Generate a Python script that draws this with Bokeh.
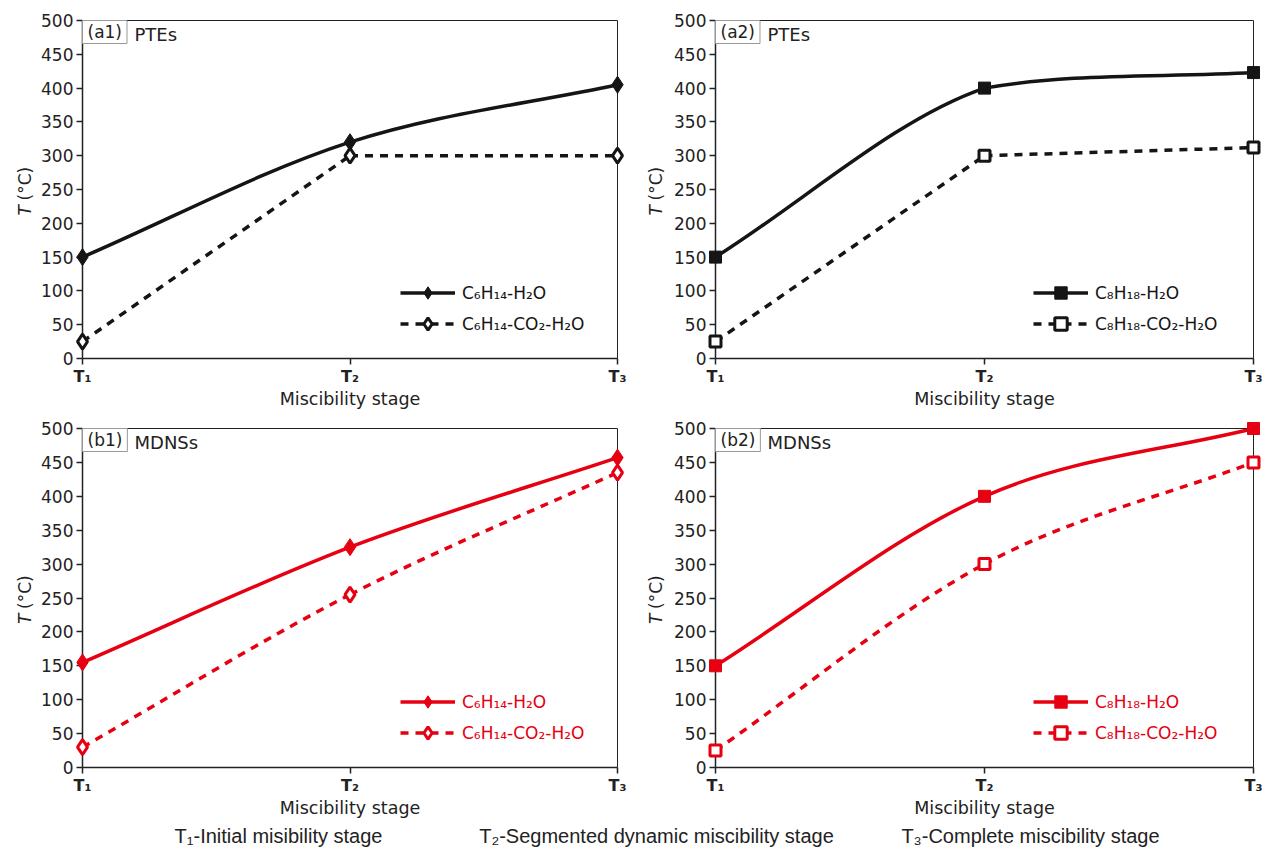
import numpy as np
from bokeh.plotting import figure
from bokeh.models import Range1d, FixedTicker, Label, Legend, LegendItem, LinearAxis
from bokeh.layouts import column, row
from bokeh.embed import file_html
from bokeh.resources import INLINE

# ---------------- data ----------------
stages = [0, 1, 2]
stage_labels = {0: "T₁", 1: "T₂", 2: "T₃"}
y_ticks = [0, 50, 100, 150, 200, 250, 300, 350, 400, 450, 500]

a1_h2o = [150, 320, 405]
a1_co2 = [25, 300, 300]
a2_h2o = [150, 400, 423]
a2_co2 = [25, 300, 312]
b1_h2o = [155, 325, 457]
b1_co2 = [30, 255, 435]
b2_h2o = [150, 400, 500]
b2_co2 = [25, 300, 450]

lab_c6 = ["C₆H₁₄-H₂O", "C₆H₁₄-CO₂-H₂O"]
lab_c8 = ["C₈H₁₈-H₂O", "C₈H₁₈-CO₂-H₂O"]
captions = ["T₁-Initial misibility stage",
            "T₂-Segmented dynamic miscibility stage",
            "T₃-Complete miscibility stage"]

BLACK = "#151515"
RED = "#e60012"
FONT = "DejaVu Sans"
AX = "#222222"


def bezier_source(xs, ys, smooth):
    xs = np.asarray(xs, float)
    ys = np.asarray(ys, float)
    n = len(xs)
    m = np.zeros(n)
    for i in range(n):
        if i == 0:
            m[i] = ys[1] - ys[0]
        elif i == n - 1:
            m[i] = ys[-1] - ys[-2]
        else:
            m[i] = (ys[i + 1] - ys[i - 1]) / 2
    x0, x1, y0, y1 = xs[:-1], xs[1:], ys[:-1], ys[1:]
    cx0 = x0 + (x1 - x0) / 3
    cx1 = x1 - (x1 - x0) / 3
    lin0 = y0 + (y1 - y0) / 3
    lin1 = y1 - (y1 - y0) / 3
    cr0 = y0 + m[:-1] / 3
    cr1 = y1 - m[1:] / 3
    cy0 = (1 - smooth) * lin0 + smooth * cr0
    cy1 = (1 - smooth) * lin1 + smooth * cr1
    lo, hi = np.minimum(y0, y1), np.maximum(y0, y1)
    cy0 = np.clip(cy0, lo, hi)
    cy1 = np.clip(cy1, lo, hi)
    return dict(x0=x0, y0=y0, x1=x1, y1=y1, cx0=cx0, cy0=cy0, cx1=cx1, cy1=cy1)


def style_axis(ax):
    ax.axis_line_color = AX
    ax.axis_line_width = 1.5
    ax.major_tick_line_color = AX
    ax.major_tick_line_width = 1.5
    ax.major_tick_in = 0
    ax.major_tick_out = 6
    ax.minor_tick_line_color = None
    ax.major_label_text_font = FONT
    ax.major_label_text_color = AX


def bare_axis(loc, bounds):
    return LinearAxis(fixed_location=loc, bounds=bounds, axis_line_color=AX, axis_line_width=1,
                      major_tick_line_color=None, minor_tick_line_color=None,
                      major_label_text_alpha=0, major_label_text_font_size="1px")


def panel(h2o, co2, color, marker, labels, tag, name, width, height,
          left_px, frame_w, top_px, frame_h, smooth_co2):
    right_px = width - left_px - frame_w
    bottom_px = height - top_px - frame_h
    ux = 2.0 / frame_w
    uy = 500.0 / frame_h
    p = figure(width=width, height=height,
               x_range=Range1d(-left_px * ux, 2 + right_px * ux),
               y_range=Range1d(-bottom_px * uy, 500 + top_px * uy),
               output_backend="svg", toolbar_location=None, title=None,
               min_border=0)
    p.grid.visible = False
    p.background_fill_color = "white"
    p.border_fill_color = "white"
    p.outline_line_color = None

    p.xaxis.ticker = FixedTicker(ticks=stages)
    p.xaxis.major_label_overrides = stage_labels
    p.xaxis.bounds = (0, 2)
    p.xaxis.fixed_location = 0
    p.yaxis.ticker = FixedTicker(ticks=y_ticks)
    p.yaxis.fixed_location = 0
    p.yaxis.bounds = (0, 500)
    style_axis(p.xaxis[0])
    style_axis(p.yaxis[0])
    p.yaxis.major_label_text_font_size = "17px"
    p.yaxis.major_label_standoff = 3
    p.xaxis.major_label_text_font_size = "16px"
    p.xaxis.major_label_text_font_style = "bold"
    p.xaxis.major_label_standoff = 2
    p.xaxis.axis_label = "Miscibility stage"
    p.xaxis.axis_label_text_font = FONT
    p.xaxis.axis_label_text_font_style = "normal"
    p.xaxis.axis_label_text_font_size = "17.5px"
    p.xaxis.axis_label_text_color = AX
    p.xaxis.axis_label_standoff = 0

    # top and right frame lines
    p.add_layout(bare_axis(500, (0, 2)), "above")
    p.add_layout(bare_axis(2, (0, 500)), "right")

    s1 = bezier_source(stages, h2o, 1.0)
    s2 = bezier_source(stages, co2, smooth_co2)
    r1 = p.bezier(source=s1, x0="x0", y0="y0", x1="x1", y1="y1", cx0="cx0", cy0="cy0",
                  cx1="cx1", cy1="cy1", line_color=color, line_width=3.5)
    r2 = p.bezier(source=s2, x0="x0", y0="y0", x1="x1", y1="y1", cx0="cx0", cy0="cy0",
                  cx1="cx1", cy1="cy1", line_color=color, line_width=3.5, line_dash="8 7")
    if marker == "diamond":
        m1 = p.scatter(stages, h2o, marker="diamond", size=17, fill_color=color,
                       line_color=color, line_width=1, level="overlay")
        m2 = p.scatter(stages, co2, marker="diamond", size=15, fill_color="white",
                       line_color=color, line_width=3, level="overlay")
    else:
        m1 = p.scatter(stages, h2o, marker="square", size=12, fill_color=color,
                       line_color=color, line_width=1, level="overlay")
        m2 = p.scatter(stages, co2, marker="square", size=11, fill_color="white",
                       line_color=color, line_width=3, level="overlay")

    legend = Legend(items=[LegendItem(label=labels[0], renderers=[r1, m1]),
                           LegendItem(label=labels[1], renderers=[r2, m2])],
                    location=(left_px + 318, bottom_px + 19), padding=0, margin=0, spacing=0,
                    glyph_width=55, glyph_height=31, label_height=31, label_standoff=7,
                    background_fill_alpha=0, border_line_color=None,
                    label_text_font=FONT, label_text_font_size="17px",
                    label_text_color=color)
    p.add_layout(legend)

    # panel tag box and name
    p.add_layout(Label(x=0, y=500, text=tag, anchor="top_left",
                       text_font=FONT, text_font_size="17px", text_color=AX,
                       border_line_color="#999999", border_line_width=1,
                       background_fill_color="white",
                       padding=dict(left=5, right=5, top=1, bottom=2)))
    p.add_layout(Label(x=0, y=500, x_offset=52, y_offset=-3, text=name,
                       text_align="left", text_baseline="top",
                       text_font=FONT, text_font_size="18px", text_color=AX))

    # y axis title: italic T + (°C)
    xo = -58 if left_px > 78 else -60
    p.add_layout(Label(x=0, y=250, x_offset=xo, y_offset=-26, text="T", angle=np.pi / 2,
                       text_align="left", text_baseline="middle",
                       text_font=FONT, text_font_size="17px", text_font_style="italic",
                       text_color=AX))
    p.add_layout(Label(x=0, y=250, x_offset=xo, y_offset=-11, text="(°C)", angle=np.pi / 2,
                       text_align="left", text_baseline="middle",
                       text_font=FONT, text_font_size="17px", text_color=AX))
    return p


a1 = panel(a1_h2o, a1_co2, BLACK, "diamond", lab_c6, "(a1)", "PTEs", 640, 418, 82, 535, 20, 338, 0.0)
a2 = panel(a2_h2o, a2_co2, BLACK, "square", lab_c8, "(a2)", "PTEs", 626, 418, 75, 538, 20, 338, 0.0)
b1 = panel(b1_h2o, b1_co2, RED, "diamond", lab_c6, "(b1)", "MDNSs", 640, 402, 82, 535, 10, 339, 1.0)
b2 = panel(b2_h2o, b2_co2, RED, "square", lab_c8, "(b2)", "MDNSs", 626, 402, 75, 538, 10, 339, 1.0)

cap = figure(width=1266, height=29, x_range=Range1d(0, 1266), y_range=Range1d(0, 29),
             output_backend="svg", toolbar_location=None, title=None, min_border=0)
cap.axis.visible = False
cap.grid.visible = False
cap.outline_line_color = None
for cx, txt in zip([278, 656, 1030], captions):
    cap.add_layout(Label(x=cx, y=14, text=txt, text_align="center", text_baseline="middle",
                         text_font="Liberation Sans", text_font_size="20px",
                         text_color=AX))

layout = column(row(a1, a2), row(b1, b2), cap)
open("out.html", "w").write(file_html(layout, INLINE))
